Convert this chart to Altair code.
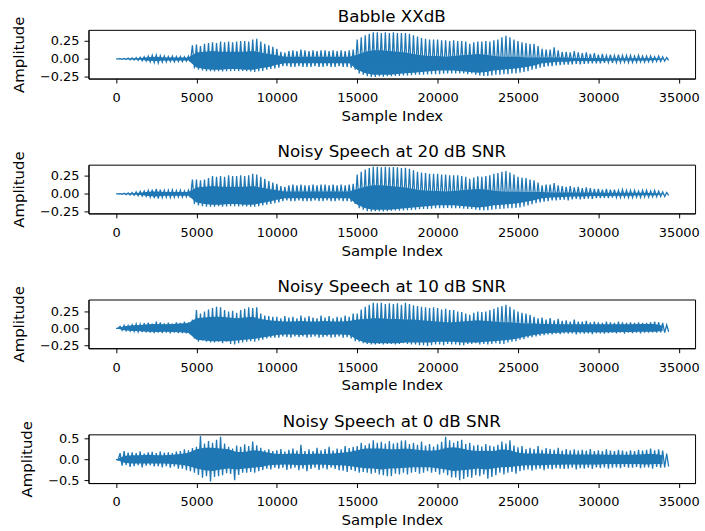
import altair as alt
import pandas as pd

BLUE = "#1f77b4"
STEP = 250          # spacing of the read peak/trough values (samples)
CORE_STEP = 500     # spacing of the read dense-core band values (samples)
X_DOMAIN = [-1715, 36015]
X_TICKS = [0, 5000, 10000, 15000, 20000, 25000, 30000, 35000]

TITLES = ["Babble XXdB", "Noisy Speech at 20 dB SNR",
          "Noisy Speech at 10 dB SNR", "Noisy Speech at 0 dB SNR"]

# ---------------- Babble XXdB ----------------
babble_hi = [
    0.0, 0.005, 0.008, 0.012, 0.015, 0.02, 0.025, 0.03, 0.04, 0.05, 0.055, 0.045,
    0.04, 0.035, 0.04, 0.035, 0.035, 0.03, 0.04, 0.19, 0.2, 0.18, 0.21, 0.22,
    0.23, 0.22, 0.24, 0.23, 0.24, 0.23, 0.24, 0.25, 0.25, 0.24, 0.27, 0.28,
    0.24, 0.21, 0.19, 0.17, 0.14, 0.1, 0.09, 0.11, 0.12, 0.11, 0.13, 0.12,
    0.11, 0.12, 0.11, 0.12, 0.12, 0.11, 0.12, 0.11, 0.12, 0.11, 0.12, 0.13,
    0.27, 0.3, 0.33, 0.35, 0.37, 0.37, 0.36, 0.37, 0.36, 0.37, 0.36, 0.36,
    0.36, 0.35, 0.33, 0.31, 0.29, 0.28, 0.27, 0.27, 0.27, 0.26, 0.26, 0.25,
    0.26, 0.25, 0.25, 0.24, 0.21, 0.23, 0.24, 0.24, 0.25, 0.24, 0.26, 0.27,
    0.3, 0.32, 0.3, 0.27, 0.25, 0.23, 0.22, 0.21, 0.21, 0.18, 0.14, 0.13,
    0.13, 0.16, 0.12, 0.1, 0.1, 0.09, 0.11, 0.09, 0.08, 0.09, 0.07, 0.08,
    0.06, 0.07, 0.05, 0.06, 0.05, 0.06, 0.05, 0.05, 0.05, 0.04, 0.05, 0.04,
    0.04, 0.04, 0.03, 0.04, 0.03, 0.02]
babble_lo = [
    0.0, -0.005, -0.008, -0.012, -0.015, -0.02, -0.025, -0.03, -0.04, -0.05, -0.055, -0.045,
    -0.04, -0.035, -0.04, -0.035, -0.035, -0.03, -0.04, -0.13, -0.15, -0.16, -0.17, -0.17,
    -0.175, -0.17, -0.175, -0.17, -0.17, -0.165, -0.17, -0.165, -0.17, -0.175, -0.18, -0.17,
    -0.165, -0.15, -0.14, -0.13, -0.12, -0.1, -0.1, -0.11, -0.11, -0.1, -0.11, -0.11,
    -0.11, -0.1, -0.11, -0.11, -0.1, -0.11, -0.11, -0.1, -0.11, -0.11, -0.12, -0.15,
    -0.2, -0.22, -0.24, -0.25, -0.25, -0.24, -0.245, -0.24, -0.24, -0.235, -0.235, -0.23,
    -0.23, -0.225, -0.22, -0.22, -0.22, -0.215, -0.21, -0.21, -0.21, -0.205, -0.2, -0.2,
    -0.2, -0.2, -0.2, -0.21, -0.2, -0.22, -0.23, -0.235, -0.235, -0.23, -0.22, -0.22,
    -0.21, -0.21, -0.2, -0.2, -0.19, -0.18, -0.17, -0.15, -0.14, -0.12, -0.11, -0.1,
    -0.1, -0.09, -0.085, -0.08, -0.08, -0.075, -0.07, -0.075, -0.07, -0.065, -0.06, -0.06,
    -0.06, -0.055, -0.05, -0.055, -0.05, -0.05, -0.045, -0.05, -0.05, -0.045, -0.04, -0.045,
    -0.04, -0.04, -0.035, -0.035, -0.03, -0.02]
babble_core_hi = [
    0, 0.003, 0.008, 0.012, 0.025, 0.03, 0.02, 0.02, 0.02, 0.02,
    0.09, 0.1, 0.11, 0.1, 0.1, 0.1, 0.1, 0.11, 0.09, 0.07,
    0.05, 0.03, 0.03, 0.03, 0.03, 0.03, 0.03, 0.03, 0.03, 0.03,
    0.06, 0.1, 0.12, 0.12, 0.11, 0.1, 0.09, 0.07, 0.05, 0.04,
    0.04, 0.03, 0.04, 0.05, 0.06, 0.07, 0.06, 0.04, 0.03, 0.03,
    0.03, 0.02, 0.02, 0.02, 0.02, 0.02, 0.02, 0.015, 0.015, 0.015,
    0.015, 0.01, 0.01, 0.01, 0.01, 0.01, 0.01, 0.01, 0.005]
babble_core_lo = [
    0, -0.003, -0.008, -0.012, -0.025, -0.03, -0.02, -0.02, -0.02, -0.02,
    -0.12, -0.14, -0.15, -0.15, -0.14, -0.14, -0.15, -0.15, -0.13, -0.11,
    -0.08, -0.06, -0.06, -0.06, -0.06, -0.06, -0.06, -0.06, -0.06, -0.06,
    -0.15, -0.2, -0.22, -0.22, -0.22, -0.21, -0.2, -0.19, -0.18, -0.17,
    -0.16, -0.16, -0.16, -0.17, -0.18, -0.19, -0.18, -0.16, -0.15, -0.14,
    -0.13, -0.11, -0.09, -0.06, -0.05, -0.04, -0.04, -0.03, -0.03, -0.03,
    -0.03, -0.025, -0.02, -0.02, -0.02, -0.02, -0.02, -0.015, -0.01]

# ---------------- 20 dB ----------------
snr20_hi = [
    0.0, 0.005, 0.01, 0.015, 0.02, 0.03, 0.035, 0.04, 0.05, 0.06, 0.07, 0.06,
    0.05, 0.05, 0.055, 0.045, 0.05, 0.04, 0.05, 0.2, 0.2, 0.19, 0.2, 0.22,
    0.25, 0.24, 0.25, 0.24, 0.26, 0.25, 0.25, 0.26, 0.25, 0.26, 0.28, 0.27,
    0.24, 0.21, 0.18, 0.16, 0.14, 0.11, 0.1, 0.12, 0.13, 0.12, 0.13, 0.12,
    0.12, 0.13, 0.12, 0.13, 0.13, 0.12, 0.13, 0.12, 0.13, 0.12, 0.13, 0.14,
    0.27, 0.31, 0.34, 0.36, 0.38, 0.38, 0.37, 0.38, 0.37, 0.375, 0.37, 0.36,
    0.365, 0.35, 0.33, 0.31, 0.3, 0.29, 0.28, 0.28, 0.28, 0.27, 0.27, 0.26,
    0.26, 0.26, 0.25, 0.24, 0.21, 0.23, 0.245, 0.24, 0.25, 0.26, 0.28, 0.29,
    0.31, 0.32, 0.3, 0.27, 0.24, 0.23, 0.22, 0.2, 0.19, 0.16, 0.12, 0.13,
    0.13, 0.15, 0.12, 0.11, 0.1, 0.11, 0.09, 0.1, 0.08, 0.09, 0.08, 0.07,
    0.07, 0.06, 0.07, 0.06, 0.06, 0.05, 0.06, 0.05, 0.05, 0.05, 0.04, 0.05,
    0.05, 0.04, 0.05, 0.04, 0.03, 0.02]
snr20_lo = [
    0.0, -0.005, -0.01, -0.015, -0.02, -0.025, -0.03, -0.035, -0.045, -0.06, -0.065, -0.05,
    -0.045, -0.05, -0.045, -0.04, -0.045, -0.04, -0.05, -0.14, -0.16, -0.17, -0.18, -0.18,
    -0.18, -0.17, -0.18, -0.175, -0.17, -0.17, -0.175, -0.17, -0.175, -0.18, -0.18, -0.17,
    -0.16, -0.15, -0.14, -0.13, -0.12, -0.1, -0.09, -0.1, -0.1, -0.09, -0.1, -0.1,
    -0.1, -0.09, -0.1, -0.1, -0.09, -0.1, -0.1, -0.09, -0.1, -0.1, -0.11, -0.14,
    -0.2, -0.22, -0.24, -0.245, -0.24, -0.24, -0.245, -0.24, -0.235, -0.23, -0.235, -0.23,
    -0.227, -0.225, -0.22, -0.215, -0.21, -0.21, -0.205, -0.2, -0.2, -0.2, -0.195, -0.2,
    -0.2, -0.2, -0.205, -0.21, -0.21, -0.22, -0.227, -0.23, -0.227, -0.22, -0.215, -0.21,
    -0.205, -0.2, -0.2, -0.195, -0.19, -0.175, -0.16, -0.145, -0.13, -0.12, -0.11, -0.1,
    -0.09, -0.09, -0.085, -0.08, -0.09, -0.075, -0.07, -0.075, -0.07, -0.065, -0.07, -0.06,
    -0.06, -0.055, -0.06, -0.05, -0.05, -0.05, -0.045, -0.05, -0.05, -0.045, -0.05, -0.04,
    -0.045, -0.04, -0.04, -0.035, -0.035, -0.02]
snr20_core_hi = [
    0, 0.005, 0.01, 0.015, 0.03, 0.035, 0.025, 0.025, 0.025, 0.025,
    0.09, 0.1, 0.11, 0.1, 0.1, 0.1, 0.1, 0.11, 0.09, 0.07,
    0.05, 0.035, 0.035, 0.035, 0.035, 0.035, 0.035, 0.035, 0.035, 0.035,
    0.07, 0.1, 0.12, 0.12, 0.11, 0.1, 0.09, 0.07, 0.05, 0.045,
    0.04, 0.035, 0.04, 0.05, 0.06, 0.07, 0.06, 0.045, 0.035, 0.03,
    0.03, 0.025, 0.025, 0.025, 0.02, 0.02, 0.02, 0.02, 0.02, 0.02,
    0.02, 0.015, 0.015, 0.015, 0.015, 0.015, 0.015, 0.01, 0.005]
snr20_core_lo = [
    0, -0.005, -0.01, -0.015, -0.03, -0.035, -0.025, -0.025, -0.025, -0.025,
    -0.12, -0.14, -0.15, -0.15, -0.14, -0.14, -0.15, -0.15, -0.13, -0.11,
    -0.08, -0.06, -0.06, -0.06, -0.06, -0.06, -0.06, -0.06, -0.06, -0.06,
    -0.15, -0.2, -0.22, -0.22, -0.22, -0.21, -0.2, -0.19, -0.18, -0.17,
    -0.16, -0.16, -0.16, -0.17, -0.18, -0.19, -0.18, -0.16, -0.15, -0.14,
    -0.13, -0.11, -0.09, -0.06, -0.05, -0.045, -0.04, -0.035, -0.035, -0.03,
    -0.03, -0.03, -0.025, -0.025, -0.025, -0.02, -0.02, -0.02, -0.01]

# ---------------- 10 dB ----------------
snr10_hi = [
    0.0, 0.03, 0.045, 0.04, 0.05, 0.065, 0.06, 0.075, 0.085, 0.07, 0.1, 0.09,
    0.075, 0.085, 0.07, 0.09, 0.08, 0.1, 0.09, 0.13, 0.27, 0.22, 0.25, 0.28,
    0.3, 0.32, 0.31, 0.27, 0.25, 0.26, 0.23, 0.27, 0.29, 0.31, 0.3, 0.31,
    0.22, 0.19, 0.18, 0.17, 0.17, 0.15, 0.18, 0.16, 0.17, 0.15, 0.19, 0.16,
    0.18, 0.16, 0.15, 0.19, 0.16, 0.18, 0.15, 0.17, 0.16, 0.19, 0.17, 0.22,
    0.22, 0.28, 0.32, 0.35, 0.38, 0.37, 0.38, 0.36, 0.37, 0.36, 0.37, 0.35,
    0.38, 0.36, 0.34, 0.33, 0.32, 0.31, 0.3, 0.31, 0.3, 0.28, 0.29, 0.27,
    0.27, 0.25, 0.24, 0.22, 0.2, 0.23, 0.25, 0.24, 0.25, 0.27, 0.29, 0.31,
    0.33, 0.35, 0.32, 0.28, 0.25, 0.23, 0.22, 0.2, 0.17, 0.15, 0.16, 0.13,
    0.15, 0.12, 0.14, 0.11, 0.12, 0.1, 0.13, 0.1, 0.1, 0.11, 0.09, 0.1,
    0.09, 0.08, 0.1, 0.09, 0.08, 0.1, 0.09, 0.08, 0.09, 0.08, 0.09, 0.08,
    0.08, 0.09, 0.1, 0.09, 0.08, 0.05]
snr10_lo = [
    0.0, -0.03, -0.035, -0.04, -0.045, -0.05, -0.055, -0.06, -0.065, -0.07, -0.065, -0.07,
    -0.065, -0.075, -0.065, -0.07, -0.07, -0.075, -0.085, -0.15, -0.2, -0.18, -0.2, -0.21,
    -0.21, -0.2, -0.22, -0.2, -0.23, -0.24, -0.22, -0.21, -0.2, -0.19, -0.2, -0.18,
    -0.17, -0.15, -0.14, -0.14, -0.14, -0.12, -0.13, -0.14, -0.12, -0.13, -0.12, -0.14,
    -0.13, -0.12, -0.14, -0.13, -0.12, -0.14, -0.13, -0.12, -0.14, -0.13, -0.15, -0.19,
    -0.2, -0.22, -0.23, -0.24, -0.24, -0.23, -0.24, -0.23, -0.23, -0.24, -0.23, -0.22,
    -0.23, -0.24, -0.24, -0.25, -0.25, -0.26, -0.25, -0.24, -0.24, -0.25, -0.23, -0.24,
    -0.24, -0.25, -0.25, -0.23, -0.23, -0.22, -0.24, -0.23, -0.24, -0.23, -0.22, -0.23,
    -0.23, -0.21, -0.2, -0.19, -0.17, -0.16, -0.14, -0.13, -0.12, -0.11, -0.1, -0.09,
    -0.09, -0.08, -0.085, -0.075, -0.08, -0.075, -0.09, -0.075, -0.08, -0.075, -0.085, -0.07,
    -0.075, -0.08, -0.07, -0.065, -0.075, -0.065, -0.08, -0.065, -0.07, -0.065, -0.075, -0.065,
    -0.065, -0.06, -0.065, -0.06, -0.065, -0.05]
snr10_core_hi = [
    0, 0.03, 0.045, 0.05, 0.06, 0.065, 0.06, 0.065, 0.07, 0.08,
    0.15, 0.16, 0.17, 0.17, 0.16, 0.15, 0.16, 0.17, 0.14, 0.12,
    0.11, 0.1, 0.1, 0.11, 0.1, 0.1, 0.11, 0.1, 0.1, 0.11,
    0.13, 0.14, 0.15, 0.15, 0.14, 0.14, 0.13, 0.13, 0.12, 0.11,
    0.1, 0.09, 0.09, 0.1, 0.11, 0.12, 0.11, 0.1, 0.09, 0.09,
    0.08, 0.07, 0.07, 0.065, 0.065, 0.06, 0.06, 0.06, 0.06, 0.06,
    0.06, 0.06, 0.06, 0.06, 0.06, 0.065, 0.065, 0.065, 0.04]
snr10_core_lo = [
    0, -0.03, -0.04, -0.045, -0.05, -0.055, -0.05, -0.055, -0.06, -0.07,
    -0.17, -0.18, -0.19, -0.19, -0.19, -0.18, -0.17, -0.16, -0.14, -0.12,
    -0.1, -0.09, -0.09, -0.1, -0.09, -0.09, -0.1, -0.09, -0.09, -0.1,
    -0.17, -0.21, -0.22, -0.22, -0.22, -0.22, -0.21, -0.21, -0.21, -0.21,
    -0.2, -0.2, -0.2, -0.21, -0.21, -0.21, -0.2, -0.19, -0.18, -0.17,
    -0.15, -0.12, -0.1, -0.08, -0.07, -0.065, -0.06, -0.06, -0.06, -0.06,
    -0.06, -0.06, -0.06, -0.055, -0.055, -0.05, -0.05, -0.05, -0.04]

# ---------------- 0 dB ----------------
snr0_hi = [
    0.0, 0.15, 0.2, 0.16, 0.17, 0.15, 0.19, 0.14, 0.17, 0.18, 0.15, 0.19,
    0.16, 0.17, 0.15, 0.19, 0.2, 0.24, 0.22, 0.27, 0.3, 0.56, 0.38, 0.44,
    0.4, 0.47, 0.54, 0.38, 0.3, 0.26, 0.33, 0.3, 0.36, 0.32, 0.43, 0.34,
    0.28, 0.22, 0.24, 0.2, 0.22, 0.25, 0.19, 0.23, 0.26, 0.21, 0.35, 0.2,
    0.24, 0.2, 0.28, 0.22, 0.25, 0.3, 0.21, 0.26, 0.24, 0.32, 0.27, 0.3,
    0.32, 0.4, 0.34, 0.38, 0.46, 0.4, 0.42, 0.38, 0.44, 0.38, 0.4, 0.45,
    0.46, 0.37, 0.4, 0.35, 0.43, 0.33, 0.37, 0.31, 0.36, 0.42, 0.54, 0.46,
    0.4, 0.44, 0.47, 0.37, 0.4, 0.33, 0.35, 0.31, 0.37, 0.33, 0.31, 0.35,
    0.43, 0.38, 0.46, 0.33, 0.29, 0.32, 0.25, 0.28, 0.25, 0.32, 0.23, 0.27,
    0.25, 0.23, 0.28, 0.21, 0.25, 0.22, 0.24, 0.21, 0.23, 0.21, 0.25, 0.2,
    0.22, 0.2, 0.24, 0.21, 0.2, 0.23, 0.21, 0.19, 0.22, 0.2, 0.23, 0.21,
    0.23, 0.26, 0.22, 0.24, 0.21, 0.14]
snr0_lo = [
    -0.02, -0.15, -0.13, -0.18, -0.16, -0.14, -0.19, -0.15, -0.14, -0.17, -0.16, -0.19,
    -0.16, -0.2, -0.17, -0.22, -0.22, -0.26, -0.28, -0.32, -0.37, -0.44, -0.4, -0.53,
    -0.42, -0.4, -0.38, -0.33, -0.35, -0.5, -0.37, -0.32, -0.32, -0.3, -0.32, -0.28,
    -0.25, -0.22, -0.24, -0.2, -0.22, -0.2, -0.25, -0.22, -0.2, -0.26, -0.22, -0.28,
    -0.23, -0.2, -0.25, -0.21, -0.24, -0.2, -0.23, -0.26, -0.27, -0.3, -0.25, -0.28,
    -0.32, -0.3, -0.32, -0.34, -0.32, -0.36, -0.38, -0.4, -0.4, -0.34, -0.36, -0.32,
    -0.36, -0.32, -0.3, -0.34, -0.32, -0.28, -0.32, -0.3, -0.36, -0.32, -0.38, -0.43,
    -0.43, -0.5, -0.47, -0.42, -0.44, -0.38, -0.4, -0.36, -0.46, -0.42, -0.38, -0.32,
    -0.36, -0.32, -0.3, -0.34, -0.28, -0.26, -0.24, -0.27, -0.24, -0.22, -0.26, -0.22,
    -0.24, -0.21, -0.22, -0.23, -0.22, -0.2, -0.24, -0.21, -0.22, -0.2, -0.23, -0.19,
    -0.21, -0.19, -0.22, -0.2, -0.19, -0.21, -0.18, -0.2, -0.2, -0.18, -0.21, -0.19,
    -0.19, -0.22, -0.18, -0.2, -0.19, -0.17]
snr0_core_hi = [
    0, 0.08, 0.1, 0.1, 0.11, 0.1, 0.1, 0.11, 0.13, 0.16,
    0.24, 0.28, 0.28, 0.26, 0.24, 0.18, 0.18, 0.22, 0.2, 0.16,
    0.13, 0.13, 0.14, 0.13, 0.13, 0.14, 0.13, 0.14, 0.16, 0.18,
    0.22, 0.26, 0.26, 0.26, 0.24, 0.24, 0.26, 0.24, 0.22, 0.21,
    0.22, 0.27, 0.29, 0.26, 0.22, 0.2, 0.21, 0.2, 0.24, 0.22,
    0.16, 0.14, 0.14, 0.14, 0.13, 0.13, 0.12, 0.12, 0.12, 0.12,
    0.12, 0.11, 0.11, 0.11, 0.11, 0.12, 0.13, 0.13, 0.1]
snr0_core_lo = [
    0, -0.08, -0.1, -0.1, -0.1, -0.1, -0.1, -0.11, -0.13, -0.16,
    -0.22, -0.26, -0.28, -0.24, -0.22, -0.24, -0.22, -0.2, -0.18, -0.14,
    -0.13, -0.12, -0.13, -0.14, -0.13, -0.12, -0.13, -0.14, -0.14, -0.16,
    -0.19, -0.21, -0.22, -0.24, -0.22, -0.21, -0.2, -0.19, -0.19, -0.19,
    -0.21, -0.24, -0.28, -0.26, -0.24, -0.22, -0.24, -0.21, -0.19, -0.18,
    -0.16, -0.14, -0.14, -0.14, -0.13, -0.13, -0.12, -0.12, -0.12, -0.12,
    -0.12, -0.11, -0.11, -0.11, -0.11, -0.11, -0.12, -0.11, -0.11]

Y_DOMAINS = [[-0.272, 0.404], [-0.272, 0.408], [-0.295, 0.427], [-0.567, 0.60]]
Y_TICKS = [[-0.25, 0.0, 0.25], [-0.25, 0.0, 0.25], [-0.25, 0.0, 0.25], [-0.5, 0.0, 0.5]]
Y_FORMATS = [".2f", ".2f", ".2f", ".1f"]

SERIES = [
    (babble_hi, babble_lo, babble_core_hi, babble_core_lo),
    (snr20_hi, snr20_lo, snr20_core_hi, snr20_core_lo),
    (snr10_hi, snr10_lo, snr10_core_hi, snr10_core_lo),
    (snr0_hi, snr0_lo, snr0_core_hi, snr0_core_lo),
]


def panel(title, hi, lo, chi, clo, ydom, yticks, yfmt):
    xs, ys = [], []
    for i, (h, l) in enumerate(zip(hi, lo)):
        xs += [i * STEP, i * STEP + STEP // 2]
        ys += [h, l]
    line_df = pd.DataFrame({"x": xs, "y": ys})
    core_df = pd.DataFrame({"x": [i * CORE_STEP for i in range(len(chi))],
                            "lo": clo, "hi": chi})
    xenc = alt.X("x:Q", scale=alt.Scale(domain=X_DOMAIN, nice=False, zero=False),
                 axis=alt.Axis(values=X_TICKS, format="d", title="Sample Index"))
    yscale = alt.Scale(domain=ydom, nice=False, zero=False)
    yaxis = alt.Axis(values=yticks, format=yfmt, title="Amplitude")
    core = alt.Chart(core_df).mark_area(color=BLUE, opacity=1).encode(
        x=xenc, y=alt.Y("lo:Q", scale=yscale, axis=yaxis), y2="hi:Q")
    line = alt.Chart(line_df).mark_line(color=BLUE, strokeWidth=1.3).encode(
        x=xenc, y=alt.Y("y:Q", scale=yscale, axis=yaxis))
    return alt.layer(core, line).properties(
        width=610, height=49,
        title=alt.TitleParams(title, offset=-10))


panels = [panel(t, *s, d, tk, f) for t, s, d, tk, f in
          zip(TITLES, SERIES, Y_DOMAINS, Y_TICKS, Y_FORMATS)]

chart = alt.vconcat(*panels, spacing=86.6, bounds="flush").properties(
    padding={"left": 11, "top": 6.5, "right": 5, "bottom": 1}
).configure_view(stroke="black", strokeWidth=1).configure_axis(
    grid=False, domainColor="black", tickColor="black", labelColor="black",
    titleColor="black", labelFont="DejaVu Sans", titleFont="DejaVu Sans",
    labelFontSize=13, titleFontSize=15, titleFontWeight="normal",
    tickSize=4.5, domainWidth=1, tickWidth=1
).configure_axisX(labelPadding=8.5, titlePadding=4
).configure_axisY(labelPadding=5, titlePadding=13
).configure_title(font="DejaVu Sans", fontSize=16.8, fontWeight="normal",
                  color="black", anchor="middle")

chart.save("out.html", embed_options={"renderer": "svg", "actions": False})
